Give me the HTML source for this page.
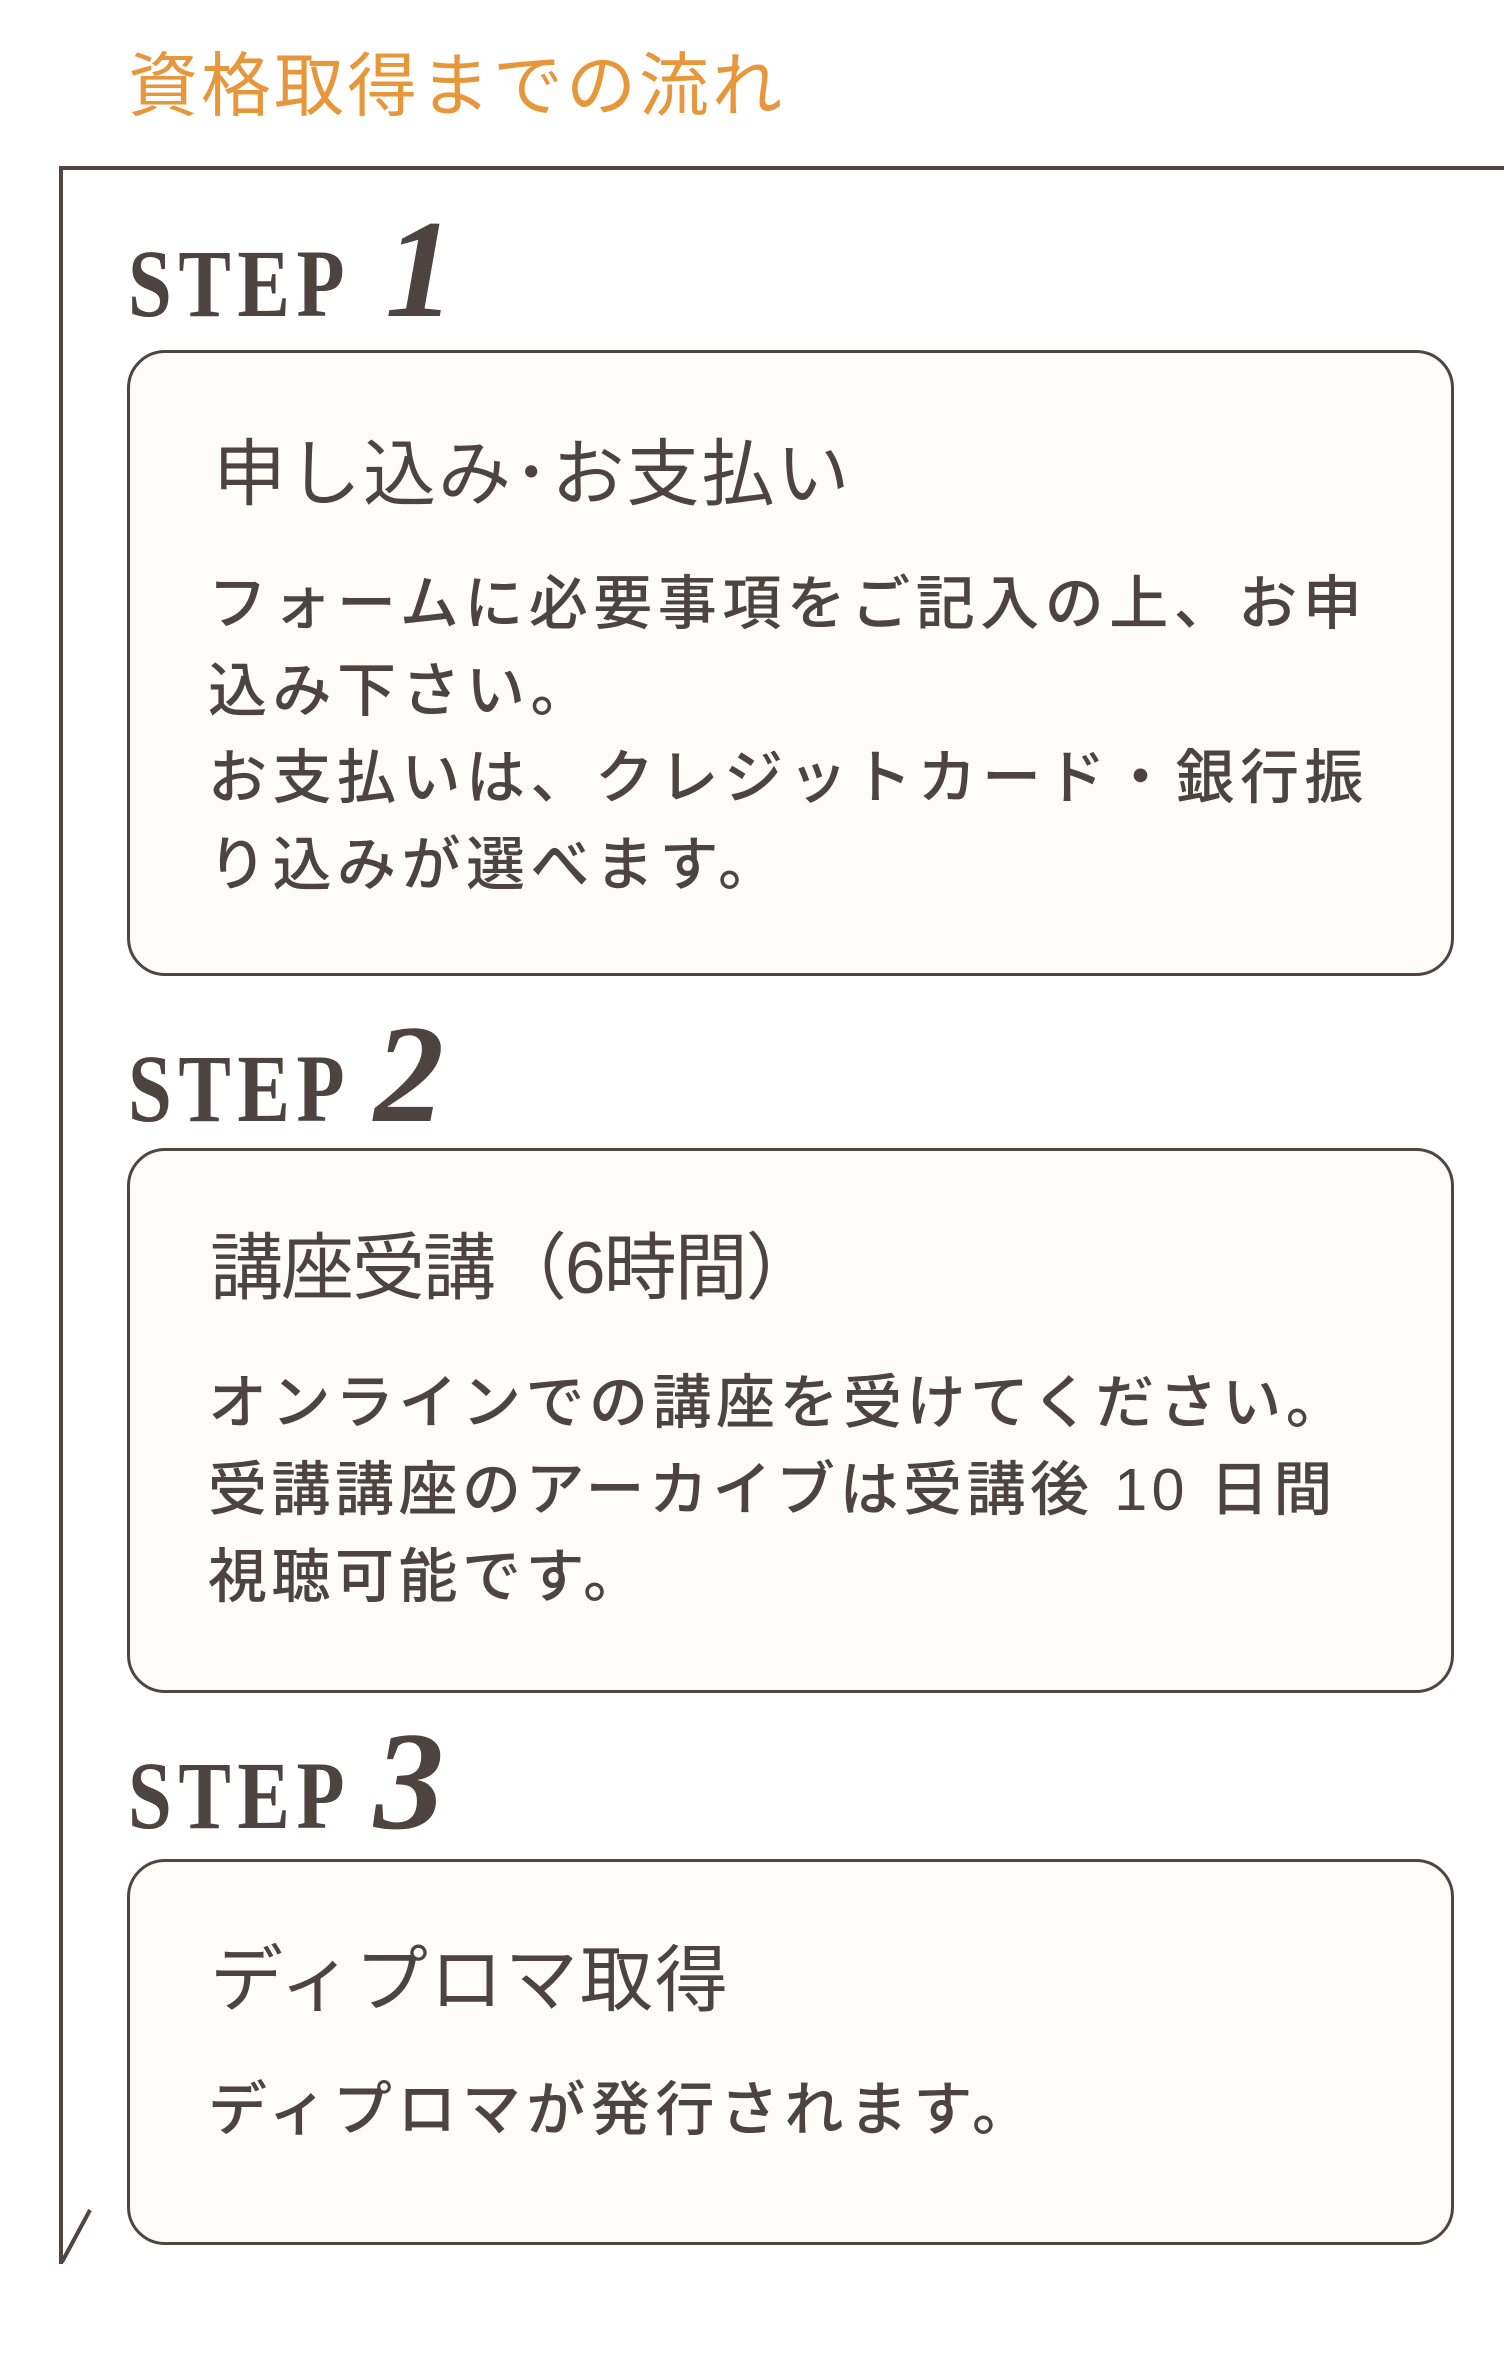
<!DOCTYPE html>
<html><head><meta charset="utf-8"><style>
html,body{margin:0;padding:0;background:#fff;}
body{width:1504px;height:2378px;position:relative;overflow:hidden;font-family:"Liberation Sans","Noto Sans CJK JP",sans-serif;color:#4d4340;}
.a{position:absolute;white-space:nowrap;}
.title{left:128px;top:46px;font-size:70px;line-height:80px;color:#e8963a;letter-spacing:3px;}
.box{position:absolute;left:127px;width:1327px;border:3px solid #4f4541;border-radius:38px;background:#fdfcf8;box-sizing:border-box;}
.step{position:absolute;left:128px;font-family:"Liberation Serif",serif;font-weight:bold;font-size:96px;line-height:1;transform:scaleX(0.82);transform-origin:left bottom;letter-spacing:8px;}
.num{position:absolute;font-family:"Liberation Serif",serif;font-weight:bold;font-style:italic;font-size:140px;line-height:1;}
.h{font-size:73px;line-height:90px;letter-spacing:2px;left:213px;}
.b{font-size:59px;line-height:87px;letter-spacing:5.5px;left:208px;font-weight:500;}
</style></head><body>
<div class="a title">資格取得までの流れ</div>
<svg class="a" style="left:0;top:0" width="1504" height="2378">
<path d="M60 168 L1504 168" stroke="#4f4541" stroke-width="4" fill="none"/>
<path d="M61 166 L61 2264" stroke="#4f4541" stroke-width="4" fill="none"/>
<path d="M62 2262 L90 2210" stroke="#4f4541" stroke-width="4" fill="none"/>
</svg>

<div class="step" style="top:236px">STEP</div>
<div class="num" style="left:385px;top:200px">1</div>
<div class="box" style="top:350px;height:626px"></div>
<div class="a h" style="top:430px">申し込み･お支払い</div>
<div class="a b" style="top:561px">フォームに必要事項をご記入の上、お申<br>込み下さい。<br>お支払いは、クレジットカード・銀行振<br>り込みが選べます。</div>

<div class="step" style="top:1041px">STEP</div>
<div class="num" style="left:374px;top:1005px">2</div>
<div class="box" style="top:1148px;height:545px"></div>
<div class="a h" style="top:1224px;left:210px;letter-spacing:-2px">講座受講（6時間）</div>
<div class="a b" style="top:1360px;letter-spacing:4.5px">オンラインでの講座を受けてください。<br>受講講座のアーカイブは受講後 10 日間<br>視聴可能です。</div>

<div class="step" style="top:1748px">STEP</div>
<div class="num" style="left:374px;top:1712px">3</div>
<div class="box" style="top:1859px;height:386px"></div>
<div class="a h" style="top:1936px;left:210px">ディプロマ取得</div>
<div class="a b" style="top:2067px">ディプロマが発行されます。</div>
</body></html>
